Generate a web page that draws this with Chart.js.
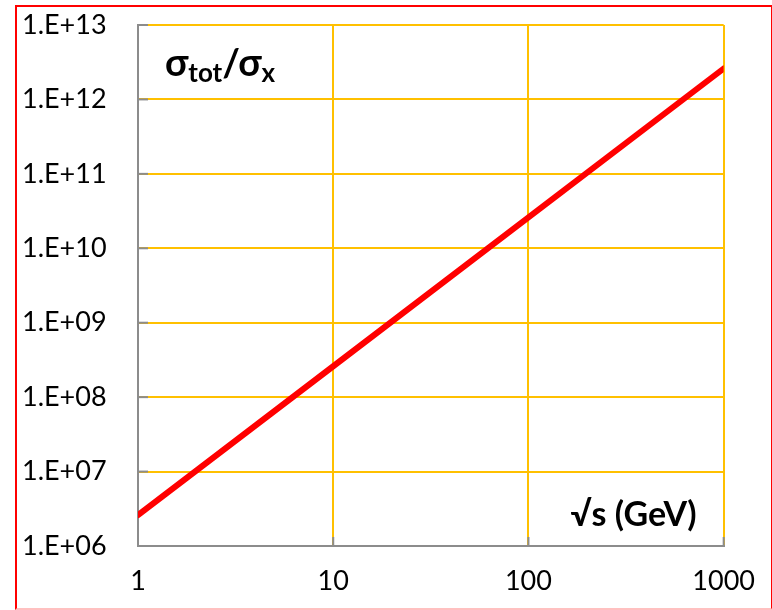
<!DOCTYPE html>
<html>
<head>
<meta charset="utf-8">
<script src="https://cdn.jsdelivr.net/npm/chart.js@4.4.0/dist/chart.umd.min.js"></script>
<style>
  body { margin: 0; background: #fff; }
  #frame { position: absolute; left: 15px; top: 5px; width: 754px; height: 601px;
           border: 2px solid #ff0000; border-bottom-color: #ffc0c0; }
  #wrap { position: absolute; left: 0; top: 0; width: 772px; height: 610px; }
</style>
</head>
<body>
<div id="frame"></div>
<div id="wrap"><canvas id="myChart" width="772" height="610"></canvas></div>
<script>
var energies = [1, 10, 100, 1000];
var ratio = [2.6e6, 2.6e8, 2.6e10, 2.6e12];
var xTicks = [1, 10, 100, 1000];
var yTicks = [1e6, 1e7, 1e8, 1e9, 1e10, 1e11, 1e12, 1e13];

var FONT = 'Lato, Calibri, sans-serif';

var extras = {
    id: 'extras',
    afterDraw: function (chart) {
        var c = chart.ctx;
        var xs = chart.scales.x, ys = chart.scales.y;
        var area = chart.chartArea;
        c.save();
        // inner tick marks
        c.strokeStyle = '#8c8c8c';
        c.lineWidth = 2;
        yTicks.forEach(function (v) {
            var py = ys.getPixelForValue(v);
            c.beginPath(); c.moveTo(area.left, py); c.lineTo(area.left + 10, py); c.stroke();
        });
        xTicks.forEach(function (v) {
            var px = xs.getPixelForValue(v);
            c.beginPath(); c.moveTo(px, area.bottom); c.lineTo(px, area.bottom - 9); c.stroke();
        });
        // annotations
        c.fillStyle = '#000';
        c.textBaseline = 'alphabetic';
        c.textAlign = 'left';
        var x = area.left + 27, base = 76;
        c.font = 'bold 38px ' + FONT;
        c.fillText('σ', x, base); x += c.measureText('σ').width;
        c.font = 'bold 26px ' + FONT;
        c.fillText('tot', x, base + 6); x += c.measureText('tot').width;
        c.font = 'bold 38px ' + FONT;
        c.fillText('/σ', x, base); x += c.measureText('/σ').width;
        c.font = 'bold 26px ' + FONT;
        c.fillText('x', x, base + 6);

        c.font = 'bold 34px ' + FONT;
        c.textAlign = 'right';
        c.fillText('√s (GeV)', area.right - 27, 526);
        c.restore();
    }
};

var ctx = document.getElementById('myChart').getContext('2d');
var myChart = new Chart(ctx, {
    type: 'scatter',
    data: {
        datasets: [{
            data: energies.map(function (e, i) { return { x: e, y: ratio[i] }; }),
            showLine: true,
            borderColor: '#ff0000',
            borderWidth: 6,
            borderCapStyle: 'round',
            pointRadius: 0,
            fill: false
        }]
    },
    options: {
        responsive: false,
        animation: false,
        layout: { padding: { top: 25, right: 48, left: 22, bottom: 0 } },
        plugins: { legend: { display: false }, tooltip: { enabled: false } },
        scales: {
            x: {
                type: 'logarithmic',
                min: 1, max: 1000,
                afterBuildTicks: function (s) { s.ticks = xTicks.map(function (v) { return { value: v }; }); },
                afterFit: function (s) { s.height = 64; },
                grid: { color: '#ffc000', lineWidth: 2, drawTicks: false },
                border: { color: '#8c8c8c', width: 2 },
                ticks: {
                    padding: 17,
                    color: '#000',
                    font: { family: FONT, size: 27, lineHeight: 1.35 },
                    maxRotation: 0,
                    callback: function (v) { return String(v); }
                }
            },
            y: {
                type: 'logarithmic',
                min: 1e6, max: 1e13,
                afterBuildTicks: function (s) { s.ticks = yTicks.map(function (v) { return { value: v }; }); },
                afterFit: function (s) { s.width = 116; },
                grid: { color: '#ffc000', lineWidth: 2, drawTicks: false },
                border: { color: '#8c8c8c', width: 2 },
                ticks: {
                    padding: 0,
                    crossAlign: 'far',
                    color: '#000',
                    font: { family: FONT, size: 27 },
                    callback: function (v) {
                        var e = Math.round(Math.log10(v));
                        return '1.E+' + (e < 10 ? '0' + e : e);
                    }
                }
            }
        }
    },
    plugins: [extras]
});
</script>
</body>
</html>
